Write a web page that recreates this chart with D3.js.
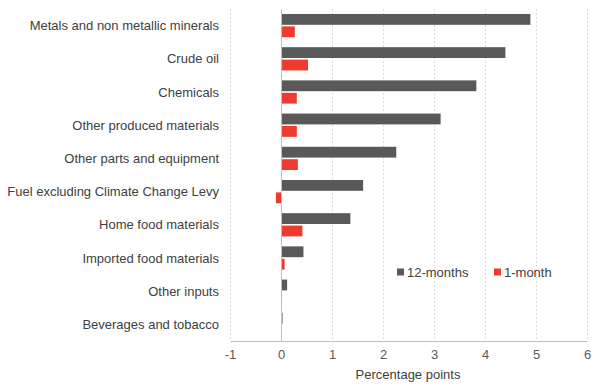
<!DOCTYPE html>
<html>
<head>
<meta charset="utf-8">
<script src="https://cdn.jsdelivr.net/npm/d3@7"></script>
<style>
  body { margin: 0; background: #fff; }
  svg { font-family: "Liberation Sans", Arial, sans-serif; }
</style>
</head>
<body>
<div id="chart"></div>
<script>
// chart data
var categories = ["Metals and non metallic minerals", "Crude oil", "Chemicals",
    "Other produced materials", "Other parts and equipment",
    "Fuel excluding Climate Change Levy", "Home food materials",
    "Imported food materials", "Other inputs", "Beverages and tobacco"];
var seriesNames = ["12-months", "1-month"];
var twelveMonths = [4.89, 4.40, 3.83, 3.13, 2.26, 1.61, 1.36, 0.44, 0.12, 0.03];
var oneMonth = [0.27, 0.53, 0.31, 0.31, 0.33, -0.10, 0.42, 0.07, 0.02, 0.01];
var xTicks = [-1, 0, 1, 2, 3, 4, 5, 6];

var w = 600, h = 392;
var margin = {top: 9, right: 13, bottom: 51, left: 230};

var colors = {"12-months": "#595959", "1-month": "#ee3b2e"};

var svg = d3.select("#chart")
    .append("svg")
        .attr("width", w)
        .attr("height", h);

var x = d3.scaleLinear()
    .domain([-1, 6])
    .range([margin.left, w - margin.right]);

var y = d3.scaleBand()
    .domain(categories)
    .range([margin.top, h - margin.bottom])
    .paddingInner(0.3)
    .paddingOuter(0.15);

var ySub = d3.scaleBand()
    .domain(seriesNames)
    .range([0, y.bandwidth()])
    .paddingInner(0.13);

// gridlines
svg.append("g")
    .selectAll("line")
    .data(xTicks.filter(function(d){ return d !== 0; }))
    .enter().append("line")
        .attr("x1", function(d){ return x(d) + 0.5; })
        .attr("x2", function(d){ return x(d) + 0.5; })
        .attr("y1", margin.top)
        .attr("y2", h - margin.bottom)
        .attr("stroke", "#d9d9d9")
        .attr("stroke-dasharray", "2,2");

var rows = categories.map(function(c, i){
    return {category: c, values: [
        {series: "12-months", value: twelveMonths[i]},
        {series: "1-month", value: oneMonth[i]}
    ]};
});

var g = svg.selectAll(".row")
    .data(rows)
    .enter().append("g")
        .attr("class", "row")
        .attr("transform", function(d){ return "translate(0," + y(d.category) + ")"; });

g.selectAll("rect")
    .data(function(d){ return d.values; })
    .enter().append("rect")
        .attr("x", function(d){ return x(Math.min(0, d.value)); })
        .attr("width", function(d){ return Math.abs(x(d.value) - x(0)); })
        .attr("y", function(d){ return ySub(d.series); })
        .attr("height", ySub.bandwidth())
        .attr("fill", function(d){ return colors[d.series]; });

// zero line
svg.append("line")
    .attr("x1", x(0) + 0.5)
    .attr("x2", x(0) + 0.5)
    .attr("y1", margin.top)
    .attr("y2", h - margin.bottom)
    .attr("stroke", "#bfbfbf");

// x axis
var xAxis = svg.append("g")
    .attr("transform", "translate(0," + (h - margin.bottom) + ")")
    .call(d3.axisBottom(x).tickValues(xTicks).tickSize(0).tickPadding(9)
        .tickFormat(function(d){ return String(d); }));
xAxis.select(".domain").attr("stroke", "#bfbfbf");
xAxis.selectAll("text")
    .attr("fill", "#595959")
    .style("font-size", "13px")
    .style("font-family", "Liberation Sans, Arial, sans-serif");

// category labels
svg.append("g")
    .selectAll("text")
    .data(categories)
    .enter().append("text")
        .attr("x", 219)
        .attr("y", function(d){ return y(d) + y.bandwidth() / 2; })
        .attr("dy", "0.35em")
        .attr("text-anchor", "end")
        .attr("fill", "#404040")
        .style("font-size", "13px")
        .text(function(d){ return d; });

// axis title
svg.append("text")
    .attr("x", 408)
    .attr("y", 379)
    .attr("text-anchor", "middle")
    .attr("fill", "#404040")
    .style("font-size", "13px")
    .text("Percentage points");

// legend
var legendX = [397, 494];
var legend = svg.selectAll(".legend")
    .data(seriesNames)
    .enter().append("g")
        .attr("class", "legend")
        .attr("transform", function(d, i){ return "translate(" + legendX[i] + ",272)"; });

legend.append("rect")
    .attr("x", 0)
    .attr("y", -3.5)
    .attr("width", 7)
    .attr("height", 7)
    .attr("fill", function(d){ return colors[d]; });

legend.append("text")
    .attr("x", 10)
    .attr("dy", "0.35em")
    .attr("fill", "#404040")
    .style("font-size", "13px")
    .text(function(d){ return d; });
</script>
</body>
</html>
